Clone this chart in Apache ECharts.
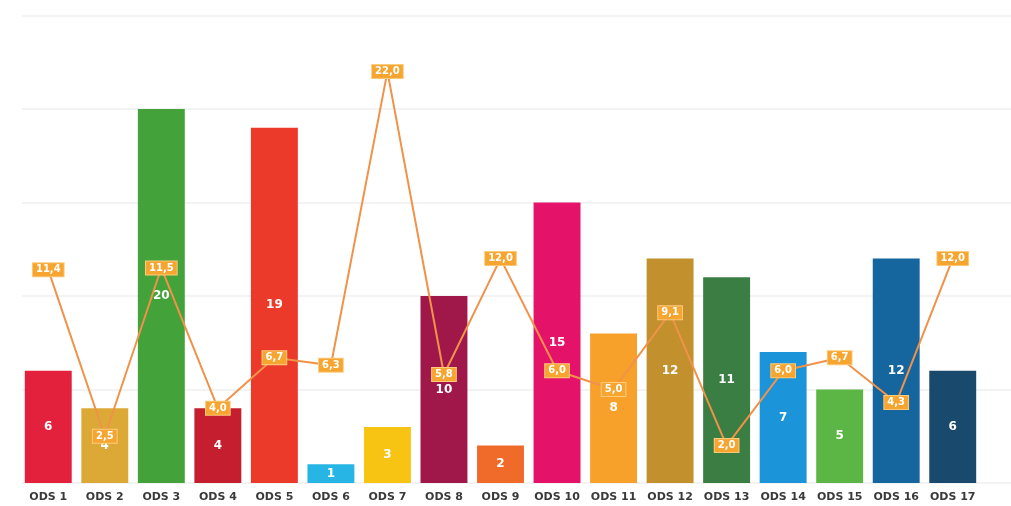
<!DOCTYPE html>
<html>
<head>
<meta charset="utf-8">
<script src="https://cdn.jsdelivr.net/npm/echarts@6/dist/echarts.min.js"></script>
<style>
html,body{margin:0;padding:0;background:#fff;}
#chart{width:1011px;height:506px;}
</style>
</head>
<body>
<div id="chart"></div>
<script>
const categories = ['ODS 1','ODS 2','ODS 3','ODS 4','ODS 5','ODS 6','ODS 7','ODS 8','ODS 9','ODS 10','ODS 11','ODS 12','ODS 13','ODS 14','ODS 15','ODS 16','ODS 17'];
const barValues = [6, 4, 20, 4, 19, 1, 3, 10, 2, 15, 8, 12, 11, 7, 5, 12, 6];
const lineValues = [11.4, 2.5, 11.5, 4.0, 6.7, 6.3, 22.0, 5.8, 12.0, 6.0, 5.0, 9.1, 2.0, 6.0, 6.7, 4.3, 12.0];
const barColors = ['#E3213D','#DCA936','#44A23A','#C41E2F','#EC3A2A','#27B5E6','#F8C414','#A0174A','#F06A2A','#E5126A','#F7A02A','#C2912E','#3A7E44','#1B94DA','#5CB646','#15659E','#194A6E'];
const yTicks = [0, 5, 10, 15, 20, 25];

const chart = echarts.init(document.getElementById('chart'));
chart.setOption({
  animation: false,
  backgroundColor: '#fff',
  grid: [
    {left: 20, right: 30, top: 15.5, bottom: 23, containLabel: false},
    {left: 22, right: 0, top: 15.5, bottom: 23, containLabel: false}
  ],
  xAxis: [
    {
      type: 'category', gridIndex: 0, data: categories,
      axisLine: {show: false}, axisTick: {show: false},
      axisLabel: {color: '#3a3a3a', fontFamily: 'DejaVu Sans', fontWeight: 'bold', fontSize: 11, margin: 9, interval: 0}
    },
    {type: 'value', gridIndex: 1, min: 0, max: 1, show: false}
  ],
  yAxis: [
    {type: 'value', gridIndex: 0, min: yTicks[0], max: yTicks[yTicks.length-1], interval: 5, show: false, splitLine: {show: false}},
    {
      type: 'value', gridIndex: 1, min: yTicks[0], max: yTicks[yTicks.length-1], interval: 5,
      axisLine: {show: false}, axisTick: {show: false}, axisLabel: {show: false},
      splitLine: {show: true, lineStyle: {color: '#efefef', width: 1.5}}
    }
  ],
  series: [
    {
      type: 'bar', xAxisIndex: 0, yAxisIndex: 0,
      barCategoryGap: '17%',
      data: barValues.map((v, i) => ({value: v, itemStyle: {color: barColors[i]}})),
      label: {show: true, position: 'inside', color: '#fff', fontFamily: 'DejaVu Sans', fontWeight: 'bold', fontSize: 12},
      z: 2
    },
    {
      type: 'line', xAxisIndex: 0, yAxisIndex: 0,
      data: lineValues,
      symbol: 'circle', symbolSize: 1,
      lineStyle: {color: '#F0924A', width: 2},
      itemStyle: {color: '#F0924A'},
      label: {
        show: true, position: 'inside',
        formatter: p => p.value.toFixed(1).replace('.', ','),
        color: '#fff', fontFamily: 'DejaVu Sans', fontWeight: 'bold', fontSize: 10,
        backgroundColor: '#F6A530', borderColor: '#FBCB7E', borderWidth: 1,
        padding: [2, 3, 1, 3]
      },
      z: 5
    }
  ]
});
</script>
</body>
</html>
